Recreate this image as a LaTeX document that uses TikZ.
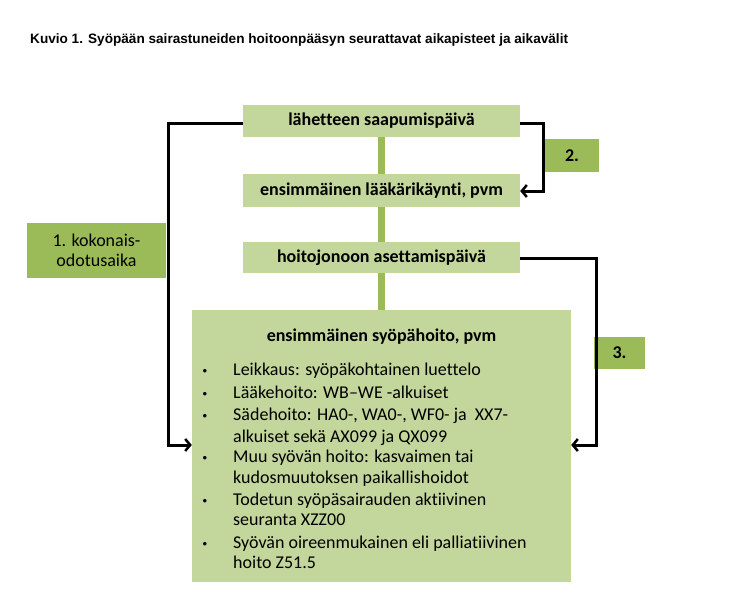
\documentclass[tikz,border=0pt]{standalone}
\usepackage{fontspec}
\setmainfont{Carlito}[Ligatures=NoCommon]
\newfontfamily\arialfont{Liberation Sans}
\usetikzlibrary{arrows.meta}
\definecolor{lightgreen}{RGB}{195,214,155}
\definecolor{midgreen}{RGB}{155,187,89}
\tikzset{
  x=1pt,y=-1pt,
  stepbox/.style={fill=lightgreen,draw=none,minimum width=277pt,inner sep=0pt,font=\fontsize{18}{22}\selectfont\bfseries},
  labelbox/.style={fill=midgreen,draw=none,inner sep=0pt},
  greenlink/.style={draw=midgreen,line width=7pt},
  conn/.style={draw=black,line width=3pt},
  connarrow/.style={conn,-{Straight Barb[length=5pt,width=12pt,line width=2.5pt]}},
  itemtext/.style={anchor=base west,inner sep=0pt,font=\fontsize{18}{22}\selectfont},
  bullet/.style={anchor=base,inner sep=0pt,font=\arialfont\fontsize{13}{22}\selectfont},
}
\begin{document}
\begin{tikzpicture}
\useasboundingbox (0,0) rectangle (744,608);
\fill[white] (0,0) rectangle (744,608);
% title
\node[anchor=base west,inner sep=0pt,font=\arialfont\fontsize{13.6}{16}\selectfont\bfseries] (title) at (30,43) {Kuvio 1. Syöpään sairastuneiden hoitoonpääsyn seurattavat aikapisteet ja aikavälit};
% boxes
\node[stepbox,minimum height=32pt] (b1) at (381.5,121) {lähetteen saapumispäivä};
\node[stepbox,minimum height=33pt] (b2) at (381.5,190.5) {ensimmäinen lääkärikäynti, pvm};
\node[stepbox,minimum height=31pt] (b3) at (381.5,257.5) {hoitojonoon asettamispäivä};
\node[fill=lightgreen,draw=none,minimum width=379pt,minimum height=272pt,inner sep=0pt] (big) at (381.5,446) {};
% green links
\draw[greenlink] (b1.south) -- (b2.north);
\draw[greenlink] (b2.south) -- (b3.north);
\draw[greenlink] (b3.south) -- (big.north);
% label boxes
\node[labelbox,minimum width=139pt,minimum height=55pt,align=center,font=\fontsize{18}{19.5}\selectfont] (l1) at (96.5,250.5) {1. kokonais-\\odotusaika};
\node[labelbox,minimum width=54pt,minimum height=33pt,font=\fontsize{18}{22}\selectfont\bfseries] (l2) at (572,155.5) {2.};
\node[labelbox,minimum width=51pt,minimum height=32pt,font=\fontsize{18}{22}\selectfont\bfseries] (l3) at (619.5,353) {3.};
% connectors
\coordinate (c1a) at (168,123);
\coordinate (c1b) at (168,445);
\coordinate (c2a) at (543,123);
\coordinate (c2b) at (543,191);
\coordinate (c3a) at (596,258);
\coordinate (c3b) at (596,445);
\draw[connarrow] (b1.west |- c1a) -- (c1a) -- (c1b) -- (big.west |- c1b);
\draw[connarrow] (b1.east |- c2a) -- (c2a) -- (c2b) -- (b2.east |- c2b);
\draw[connarrow] (b3.east |- c3a) -- (c3a) -- (c3b) -- (big.east |- c3b);
% big box content
\node[anchor=base,inner sep=0pt,font=\fontsize{18}{22}\selectfont\bfseries] (bt) at (381.5,341) {ensimmäinen syöpähoito, pvm};
\node[bullet] (k1) at (205,375) {•};
\node[itemtext] (t1) at (233,375) {Leikkaus: syöpäkohtainen luettelo};
\node[bullet] (k2) at (205,398) {•};
\node[itemtext] (t2) at (233,398) {Lääkehoito: WB–WE -alkuiset};
\node[bullet] (k3) at (205,420) {•};
\node[itemtext] (t3) at (233,420) {Sädehoito: HA0-, WA0-, WF0- ja\ \ XX7-};
\node[itemtext] (t3b) at (233,442) {alkuiset sekä AX099 ja QX099};
\node[bullet] (k4) at (205,462) {•};
\node[itemtext] (t4) at (233,462) {Muu syövän hoito: kasvaimen tai};
\node[itemtext] (t4b) at (233,483) {kudosmuutoksen paikallishoidot};
\node[bullet] (k5) at (205,505) {•};
\node[itemtext] (t5) at (233,505) {Todetun syöpäsairauden aktiivinen};
\node[itemtext] (t5b) at (233,525) {seuranta XZZ00};
\node[bullet] (k6) at (205,548) {•};
\node[itemtext] (t6) at (233,548) {Syövän oireenmukainen eli palliatiivinen};
\node[itemtext] (t6b) at (233,568) {hoito Z51.5};
\end{tikzpicture}
\end{document}
